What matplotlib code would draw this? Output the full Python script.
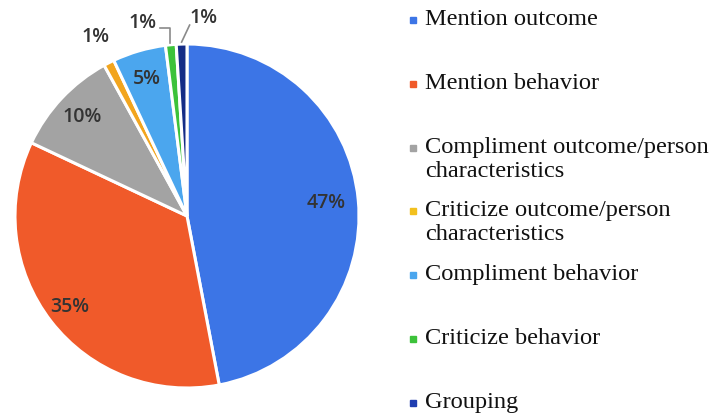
import numpy as np
import matplotlib
matplotlib.use("Agg")
import matplotlib.pyplot as plt

categories = ["Mention outcome", "Mention behavior",
              "Compliment outcome/person\ncharacteristics",
              "Criticize outcome/person\ncharacteristics",
              "Compliment behavior", "Criticize behavior", "Grouping"]
values = [47, 35, 10, 1, 5, 1, 1]
pct_labels = ["47%", "35%", "10%", "1%", "5%", "1%", "1%"]
colors = ["#3c75e6", "#f05a2a", "#a3a3a3", "#f2a51e", "#4ba6ee", "#3cc23a", "#142c86"]
legend_colors = ["#3c75e6", "#f05a2a", "#a3a3a3", "#f2c01e", "#4ba6ee", "#3cc23a", "#1f3db0"]

W, H = 712, 419
fig = plt.figure(figsize=(W / 100, H / 100), dpi=100)
cx, cy, R = 187, 216, 172
ax = fig.add_axes([(cx - R) / W, (H - cy - R) / H, 2 * R / W, 2 * R / H])
wedges, _ = ax.pie(values, colors=colors, startangle=90, counterclock=False,
                   radius=1.0, wedgeprops=dict(edgecolor="white", linewidth=2.2))
ax.set_xlim(-1, 1)
ax.set_ylim(-1, 1)
ax.set_aspect("equal")
ax.axis("off")

def px(p):
    return p / R

lab_font = dict(family="Open Sans", fontsize=14, color="#333333", fontweight="semibold")
inner_r = [0.81, 0.86, 0.84, None, 0.83, None, None]
for i, w in enumerate(wedges):
    mid = np.deg2rad((w.theta1 + w.theta2) / 2)
    if inner_r[i] is not None:
        ax.text(inner_r[i] * np.cos(mid), inner_r[i] * np.sin(mid), pct_labels[i],
                ha="center", va="center", **lab_font)

# small outside labels
w3 = wedges[3]
m3 = np.deg2rad((w3.theta1 + w3.theta2) / 2)
ax.text(1.13 * np.cos(m3) - px(3), 1.13 * np.sin(m3) + px(6), pct_labels[3],
        ha="center", va="center", **lab_font)

w5 = wedges[5]
m5 = np.deg2rad((w5.theta1 + w5.theta2) / 2)
x5, y5 = np.cos(m5) * 1.0, np.sin(m5) * 1.0
top5 = y5 + px(17)
ax.plot([x5 - px(1), x5 - px(1), x5 - px(11)], [y5 + px(2), top5, top5], color="#8a8a8a",
        lw=1.2, clip_on=False)
ax.text(x5 - px(14), top5 + px(5), pct_labels[5], ha="right", va="center", **lab_font)

w6 = wedges[6]
m6 = np.deg2rad((w6.theta1 + w6.theta2) / 2)
x6, y6 = np.cos(m6) * 1.0, np.sin(m6) * 1.0
ax.plot([x6, x6 + px(8)], [y6 + px(2), y6 + px(19)], color="#8a8a8a", lw=1.2,
        clip_on=False)
ax.text(x6 + px(8), y6 + px(26), pct_labels[6], ha="left", va="center", **lab_font)

# legend
leg_font = dict(family="Liberation Serif", fontsize=17.6, color="#111111")
y_first = 20
step = 63.8
for i, (lab, col) in enumerate(zip(categories, legend_colors)):
    my = y_first + i * step
    fig.patches.append(plt.Rectangle(((413 - 3) / W, (H - my - 3) / H), 6 / W, 6 / H,
                                     transform=fig.transFigure, color=col))
    for j, line in enumerate(lab.split("\n")):
        fig.text(425 / W, (H - (my + 5 + j * 24)) / H, line, ha="left",
                 va="baseline", **leg_font)

fig.savefig("out.png", dpi=100, facecolor="white")
